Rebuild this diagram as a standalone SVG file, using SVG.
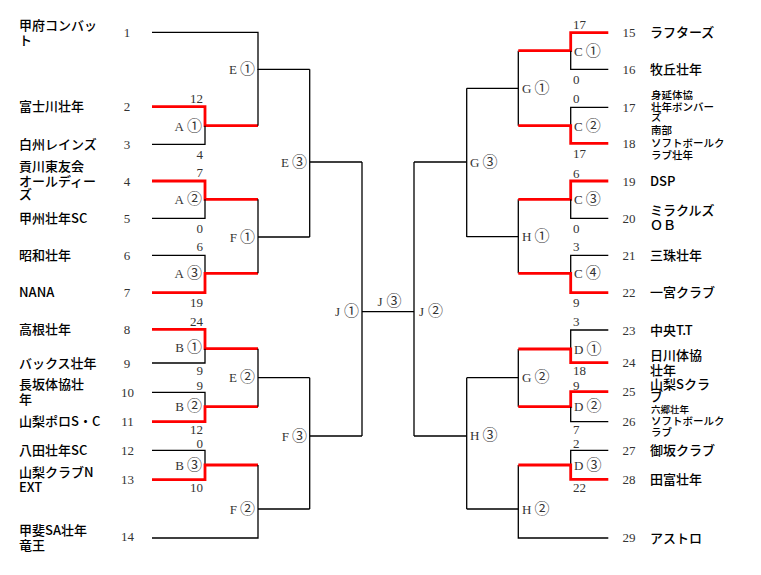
<svg xmlns="http://www.w3.org/2000/svg" width="761" height="575" viewBox="0 0 761 575">
<style>
.bk{stroke:#000;stroke-width:1.3;fill:none}
.rd{stroke:#ff0000;stroke-width:2.8;fill:none}
.nm{font-family:"Noto Sans CJK JP","Liberation Sans",sans-serif;font-size:13px;fill:#000;font-weight:500}
.sm{font-size:10.5px}
.xs{font-size:9.5px}
.sd{font-family:"Liberation Serif","Noto Sans CJK JP",serif;font-size:13px;fill:#333}
.sc{font-family:"Liberation Serif","Noto Sans CJK JP",serif;font-size:13px;fill:#333}
.lb{font-family:"Liberation Serif","Noto Sans CJK JP",serif;font-size:13px;fill:#333}
.ci{font-family:"Noto Sans CJK JP","DejaVu Sans",sans-serif;font-size:15px}
.e{text-anchor:end}
.m{text-anchor:middle}
</style>
<rect width="761" height="575" fill="#fff"/>
<g id="connectors">
<path class="bk" d="M152,32.3H258V69.3H309.7"/>
<path class="rd" d="M152,106.7H205V125.7H258"/>
<path class="bk" d="M152,144.3H205V125.7"/>
<path class="bk" d="M258,125.7V69.3"/>
<path class="rd" d="M152,181H205V199.3H258"/>
<path class="bk" d="M152,218.3H205V199.3"/>
<path class="bk" d="M152,255.3H205V273.3"/>
<path class="rd" d="M152,292.7H205V273.3H258"/>
<path class="bk" d="M258,199.3V273.3M258,237H309.7"/>
<path class="rd" d="M152,329.3H205V348.7H258"/>
<path class="bk" d="M152,363H205V348.7"/>
<path class="bk" d="M152,392.3H205V406.7"/>
<path class="rd" d="M152,421.7H205V406.7H258"/>
<path class="bk" d="M258,348.7V406.7M258,377.7H309.7"/>
<path class="bk" d="M152,450.3H205V465"/>
<path class="rd" d="M152,479.7H205V465H258"/>
<path class="bk" d="M152,538H258V465M258,509H309.7"/>
<path class="bk" d="M309.7,69.3V237M309.7,162H362"/>
<path class="bk" d="M309.7,377.7V509M309.7,436H362"/>
<path class="bk" d="M362,162V436M362,311.7H414"/>
<path class="bk" d="M414,162V436M414,162H466.7M414,436H466.7"/>
<path class="bk" d="M466.7,88.3V237M466.7,88.3H518.3M466.7,236.7H518.3"/>
<path class="bk" d="M466.7,377.7V509M466.7,377.7H518.3M466.7,509H518.3"/>
<path class="bk" d="M518.3,50.7V125.7M518.3,199.3V273.3M518.3,349V406.7M518.3,465V538H608.3"/>
<path class="rd" d="M518.3,50.7H570.7V32.7H608.3"/>
<path class="bk" d="M570.7,50.7V69.3H608.3"/>
<path class="bk" d="M608.3,107.3H570.7V125.7"/>
<path class="rd" d="M518.3,125.7H570.7V143.3H608.3"/>
<path class="rd" d="M518.3,199.3H570.7V181H608.3"/>
<path class="bk" d="M570.7,199.3V218.3H608.3"/>
<path class="bk" d="M608.3,255.3H570.7V273.3"/>
<path class="rd" d="M518.3,273.3H570.7V292.7H608.3"/>
<path class="bk" d="M608.3,330H570.7V349"/>
<path class="rd" d="M518.3,349H570.7V362.7H608.3"/>
<path class="rd" d="M518.3,406.7H570.7V391.7H608.3"/>
<path class="bk" d="M570.7,406.7V421.7H608.3"/>
<path class="bk" d="M608.3,450.3H570.7V465"/>
<path class="rd" d="M518.3,465H570.7V479.3H608.3"/>
</g>
<g id="match-labels">
<text class="lb e" x="202" y="130.5">A<tspan class="ci" dx="3">①</tspan></text>
<text class="lb e" x="202" y="204">A<tspan class="ci" dx="3">②</tspan></text>
<text class="lb e" x="202" y="278">A<tspan class="ci" dx="3">③</tspan></text>
<text class="lb e" x="202" y="351.5">B<tspan class="ci" dx="3">①</tspan></text>
<text class="lb e" x="202" y="411">B<tspan class="ci" dx="3">②</tspan></text>
<text class="lb e" x="202" y="469.5">B<tspan class="ci" dx="3">③</tspan></text>
<text class="lb e" x="255" y="74">E<tspan class="ci" dx="3">①</tspan></text>
<text class="lb e" x="255" y="241.5">F<tspan class="ci" dx="3">①</tspan></text>
<text class="lb e" x="255" y="382">E<tspan class="ci" dx="3">②</tspan></text>
<text class="lb e" x="255" y="513.5">F<tspan class="ci" dx="3">②</tspan></text>
<text class="lb e" x="307" y="166.5">E<tspan class="ci" dx="3">③</tspan></text>
<text class="lb e" x="307" y="440.5">F<tspan class="ci" dx="3">③</tspan></text>
<text class="lb e" x="359" y="316">J<tspan class="ci" dx="4">①</tspan></text>
<text class="lb m" x="389.5" y="306">J<tspan class="ci" dx="4">③</tspan></text>
<text class="lb" x="419" y="316">J<tspan class="ci" dx="4">②</tspan></text>
<text class="lb" x="470" y="166.5">G<tspan class="ci" dx="3">③</tspan></text>
<text class="lb" x="470" y="440">H<tspan class="ci" dx="3">③</tspan></text>
<text class="lb" x="522" y="92.5">G<tspan class="ci" dx="3">①</tspan></text>
<text class="lb" x="522" y="241">H<tspan class="ci" dx="3">①</tspan></text>
<text class="lb" x="522" y="382">G<tspan class="ci" dx="3">②</tspan></text>
<text class="lb" x="522" y="513.5">H<tspan class="ci" dx="3">②</tspan></text>
<text class="lb" x="574" y="55.5">C<tspan class="ci" dx="3">①</tspan></text>
<text class="lb" x="574" y="130.5">C<tspan class="ci" dx="3">②</tspan></text>
<text class="lb" x="574" y="204">C<tspan class="ci" dx="3">③</tspan></text>
<text class="lb" x="574" y="278">C<tspan class="ci" dx="3">④</tspan></text>
<text class="lb" x="574" y="353.5">D<tspan class="ci" dx="3">①</tspan></text>
<text class="lb" x="574" y="411">D<tspan class="ci" dx="3">②</tspan></text>
<text class="lb" x="574" y="469.5">D<tspan class="ci" dx="3">③</tspan></text>
</g>
<g id="scores">
<text class="sc e" x="203" y="103">12</text>
<text class="sc e" x="203" y="158.5">4</text>
<text class="sc e" x="203" y="177">7</text>
<text class="sc e" x="203" y="232.5">0</text>
<text class="sc e" x="203" y="251">6</text>
<text class="sc e" x="203" y="307">19</text>
<text class="sc e" x="203" y="326">24</text>
<text class="sc e" x="203" y="374.5">9</text>
<text class="sc e" x="203" y="389.5">9</text>
<text class="sc e" x="203" y="433.5">12</text>
<text class="sc e" x="203" y="447.5">0</text>
<text class="sc e" x="203" y="491.5">10</text>
<text class="sc" x="573" y="28.5">17</text>
<text class="sc" x="573" y="83.5">0</text>
<text class="sc" x="573" y="102.5">0</text>
<text class="sc" x="573" y="157.5">17</text>
<text class="sc" x="573" y="177.5">6</text>
<text class="sc" x="573" y="232.5">0</text>
<text class="sc" x="573" y="251">3</text>
<text class="sc" x="573" y="307">9</text>
<text class="sc" x="573" y="326">3</text>
<text class="sc" x="573" y="374.5">18</text>
<text class="sc" x="573" y="389.5">9</text>
<text class="sc" x="573" y="433.5">7</text>
<text class="sc" x="573" y="447.5">2</text>
<text class="sc" x="573" y="491.5">22</text>
</g>
<g id="seeds">
<text class="sd m" x="127" y="36.5">1</text>
<text class="sd m" x="127" y="111">2</text>
<text class="sd m" x="127" y="148.5">3</text>
<text class="sd m" x="127" y="185.5">4</text>
<text class="sd m" x="127" y="222.5">5</text>
<text class="sd m" x="127" y="259.5">6</text>
<text class="sd m" x="127" y="297">7</text>
<text class="sd m" x="127" y="333.5">8</text>
<text class="sd m" x="127" y="367.5">9</text>
<text class="sd m" x="127.5" y="396.5">10</text>
<text class="sd m" x="127.5" y="426">11</text>
<text class="sd m" x="127.5" y="454.5">12</text>
<text class="sd m" x="127.5" y="484">13</text>
<text class="sd m" x="127.5" y="541">14</text>
<text class="sd m" x="629" y="37">15</text>
<text class="sd m" x="629" y="73.5">16</text>
<text class="sd m" x="629" y="111.5">17</text>
<text class="sd m" x="629" y="147.5">18</text>
<text class="sd m" x="629" y="185.5">19</text>
<text class="sd m" x="629" y="222.5">20</text>
<text class="sd m" x="629" y="259.5">21</text>
<text class="sd m" x="629" y="297">22</text>
<text class="sd m" x="629" y="334.5">23</text>
<text class="sd m" x="629" y="367">24</text>
<text class="sd m" x="629" y="396">25</text>
<text class="sd m" x="629" y="426">26</text>
<text class="sd m" x="629" y="454.5">27</text>
<text class="sd m" x="629" y="483.5">28</text>
<text class="sd m" x="629" y="542">29</text>
</g>
<g id="team-1"><text class="nm" x="19" y="29.5">甲府コンバッ</text><text class="nm" x="19" y="44.5">ト</text></g>
<g id="team-2"><text class="nm" x="19" y="111">富士川壮年</text></g>
<g id="team-3"><text class="nm" x="19" y="148.5">白州レインズ</text></g>
<g id="team-4"><text class="nm" x="19" y="171">貢川東友会</text><text class="nm" x="19" y="185.5">オールディー</text><text class="nm" x="19" y="199">ズ</text></g>
<g id="team-5"><text class="nm" x="19" y="222.5">甲州壮年SC</text></g>
<g id="team-6"><text class="nm" x="19" y="259.5">昭和壮年</text></g>
<g id="team-7"><text class="nm" x="19" y="297">NANA</text></g>
<g id="team-8"><text class="nm" x="19" y="333.5">高根壮年</text></g>
<g id="team-9"><text class="nm" x="19" y="367.5">バックス壮年</text></g>
<g id="team-10"><text class="nm" x="19" y="388.5">長坂体協壮</text><text class="nm" x="19" y="403.5">年</text></g>
<g id="team-11"><text class="nm" x="19" y="426">山梨ポロS・C</text></g>
<g id="team-12"><text class="nm" x="19" y="454.5">八田壮年SC</text></g>
<g id="team-13"><text class="nm" x="19" y="476.5">山梨クラブN</text><text class="nm" x="19" y="492">EXT</text></g>
<g id="team-14"><text class="nm" x="19" y="534.5">甲斐SA壮年</text><text class="nm" x="19" y="549.5">竜王</text></g>
<g id="team-15"><text class="nm" x="650" y="37">ラフターズ</text></g>
<g id="team-16"><text class="nm" x="650" y="73.5">牧丘壮年</text></g>
<g id="team-17"><text class="nm sm" x="651" y="99">身延体協</text><text class="nm sm" x="651" y="110.5">壮年ボンバー</text><text class="nm sm" x="651" y="121">ズ</text></g>
<g id="team-18"><text class="nm sm" x="651" y="134">南部</text><text class="nm sm" x="651" y="147">ソフトボールク</text><text class="nm sm" x="651" y="159">ラブ壮年</text></g>
<g id="team-19"><text class="nm" x="650" y="185.5">DSP</text></g>
<g id="team-20"><text class="nm" x="650" y="214.5">ミラクルズ</text><text class="nm" x="650" y="229.5">ＯＢ</text></g>
<g id="team-21"><text class="nm" x="650" y="259.5">三珠壮年</text></g>
<g id="team-22"><text class="nm" x="650" y="297">一宮クラブ</text></g>
<g id="team-23"><text class="nm" x="650" y="334.5">中央T.T</text></g>
<g id="team-24"><text class="nm" x="650" y="359.5">日川体協</text><text class="nm" x="650" y="374.5">壮年</text></g>
<g id="team-25"><text class="nm" x="650" y="389">山梨Sクラ</text><text class="nm" x="650" y="401">ブ</text></g>
<g id="team-26"><text class="nm xs" x="651" y="413">六郷壮年</text><text class="nm sm" x="651" y="424.5">ソフトボールク</text><text class="nm sm" x="651" y="435.5">ラブ</text></g>
<g id="team-27"><text class="nm" x="650" y="454.5">御坂クラブ</text></g>
<g id="team-28"><text class="nm" x="650" y="483.5">田富壮年</text></g>
<g id="team-29"><text class="nm" x="650" y="542.5">アストロ</text></g>
</svg>
